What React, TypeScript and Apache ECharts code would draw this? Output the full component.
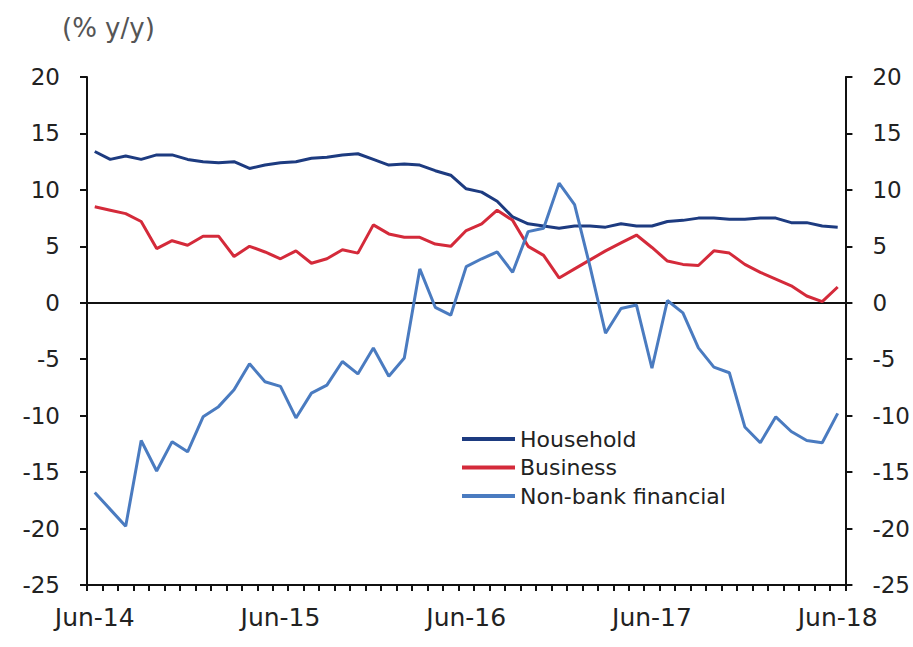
import React, { useEffect, useRef } from "react";
import * as echarts from "echarts";

const months = [
  "Jun-14", "Jul-14", "Aug-14", "Sep-14", "Oct-14", "Nov-14", "Dec-14",
  "Jan-15", "Feb-15", "Mar-15", "Apr-15", "May-15", "Jun-15", "Jul-15", "Aug-15", "Sep-15", "Oct-15", "Nov-15", "Dec-15",
  "Jan-16", "Feb-16", "Mar-16", "Apr-16", "May-16", "Jun-16", "Jul-16", "Aug-16", "Sep-16", "Oct-16", "Nov-16", "Dec-16",
  "Jan-17", "Feb-17", "Mar-17", "Apr-17", "May-17", "Jun-17", "Jul-17", "Aug-17", "Sep-17", "Oct-17", "Nov-17", "Dec-17",
  "Jan-18", "Feb-18", "Mar-18", "Apr-18", "May-18", "Jun-18",
];

const household = [
  13.4, 12.7, 13.0, 12.7, 13.1, 13.1, 12.7, 12.5, 12.4, 12.5,
  11.9, 12.2, 12.4, 12.5, 12.8, 12.9, 13.1, 13.2, 12.7, 12.2,
  12.3, 12.2, 11.7, 11.3, 10.1, 9.8, 9.0, 7.6, 7.0, 6.8,
  6.6, 6.8, 6.8, 6.7, 7.0, 6.8, 6.8, 7.2, 7.3, 7.5,
  7.5, 7.4, 7.4, 7.5, 7.5, 7.1, 7.1, 6.8, 6.7,
];

const business = [
  8.5, 8.2, 7.9, 7.2, 4.8, 5.5, 5.1, 5.9, 5.9, 4.1,
  5.0, 4.5, 3.9, 4.6, 3.5, 3.9, 4.7, 4.4, 6.9, 6.1,
  5.8, 5.8, 5.2, 5.0, 6.4, 7.0, 8.2, 7.3, 5.0, 4.2,
  2.2, 3.0, 3.8, 4.6, 5.3, 6.0, 4.9, 3.7, 3.4, 3.3,
  4.6, 4.4, 3.4, 2.7, 2.1, 1.5, 0.6, 0.1, 1.4,
];

const nonBank = [
  -16.8, -18.3, -19.8, -12.2, -14.9, -12.3, -13.2, -10.1, -9.2, -7.7,
  -5.4, -7.0, -7.4, -10.2, -8.0, -7.3, -5.2, -6.3, -4.0, -6.5,
  -4.9, 3.0, -0.4, -1.1, 3.2, 3.9, 4.5, 2.7, 6.3, 6.6,
  10.6, 8.7, 3.2, -2.7, -0.5, -0.2, -5.8, 0.2, -0.9, -4.0,
  -5.7, -6.2, -11.0, -12.4, -10.1, -11.4, -12.2, -12.4, -9.8,
];

const seriesNames = ["Household", "Business", "Non-bank financial"];
const seriesColors = ["#1d3b80", "#d42a3a", "#4a7bc0"];
const unitLabel = "(% y/y)";

const FONT = "DejaVu Sans";

export default function App() {
  const ref = useRef<HTMLDivElement>(null);

  useEffect(() => {
    if (!ref.current) return;
    const chart = echarts.init(ref.current, null, { renderer: "svg" });

    const yAxisBase = {
      type: "value",
      min: -25,
      max: 20,
      interval: 5,
      axisLine: { show: true, lineStyle: { color: "#111", width: 2 } },
      axisTick: { show: true, length: 7, lineStyle: { color: "#111", width: 2 } },
      splitLine: { show: false },
      axisLabel: {
        fontFamily: FONT,
        fontSize: 23,
        color: "#222",
        margin: 27,
      },
    };

    const dataSets = [household, business, nonBank];

    chart.setOption({
      animation: false,
      backgroundColor: "#ffffff",
      grid: { left: 87, right: 67, top: 77, bottom: 62, containLabel: false },
      graphic: [
        {
          type: "text",
          left: 62,
          top: 15,
          style: {
            text: unitLabel,
            fontFamily: FONT,
            fontSize: 26,
            fill: "#555",
          },
        },
      ],
      legend: {
        orient: "vertical",
        left: 462,
        top: 428,
        padding: 0,
        icon: "rect",
        itemWidth: 53,
        itemHeight: 4,
        itemGap: 6.5,
        data: seriesNames,
        textStyle: {
          fontFamily: FONT,
          fontSize: 22,
          lineHeight: 22,
          color: "#222",
        },
      },
      xAxis: {
        type: "category",
        data: months,
        boundaryGap: true,
        axisLine: { show: true, onZero: false, lineStyle: { color: "#111", width: 2 } },
        axisTick: {
          show: true,
          interval: 0,
          alignWithLabel: false,
          length: 6,
          lineStyle: { color: "#111", width: 2 },
        },
        axisLabel: {
          interval: 11,
          fontFamily: FONT,
          fontSize: 25,
          color: "#222",
          margin: 20,
        },
        splitLine: { show: false },
      },
      yAxis: [
        { ...yAxisBase, position: "left" },
        { ...yAxisBase, position: "right" },
      ],
      series: seriesNames.map((name, i) => ({
        name,
        type: "line",
        yAxisIndex: 0,
        data: dataSets[i],
        color: seriesColors[i],
        symbol: "none",
        showSymbol: false,
        lineStyle: { width: 3, color: seriesColors[i] },
        z: 3 + i,
        markLine:
          i === 0
            ? {
                silent: true,
                symbol: ["none", "none"],
                label: { show: false },
                lineStyle: { color: "#111", width: 2, type: "solid" },
                data: [{ yAxis: 0 }],
                z: 1,
              }
            : undefined,
      })),
    });

    return () => {
      chart.dispose();
    };
  }, []);

  return (
    <div
      ref={ref}
      style={{ position: "fixed", left: 0, top: 0, width: 913, height: 647, background: "#fff" }}
    />
  );
}
